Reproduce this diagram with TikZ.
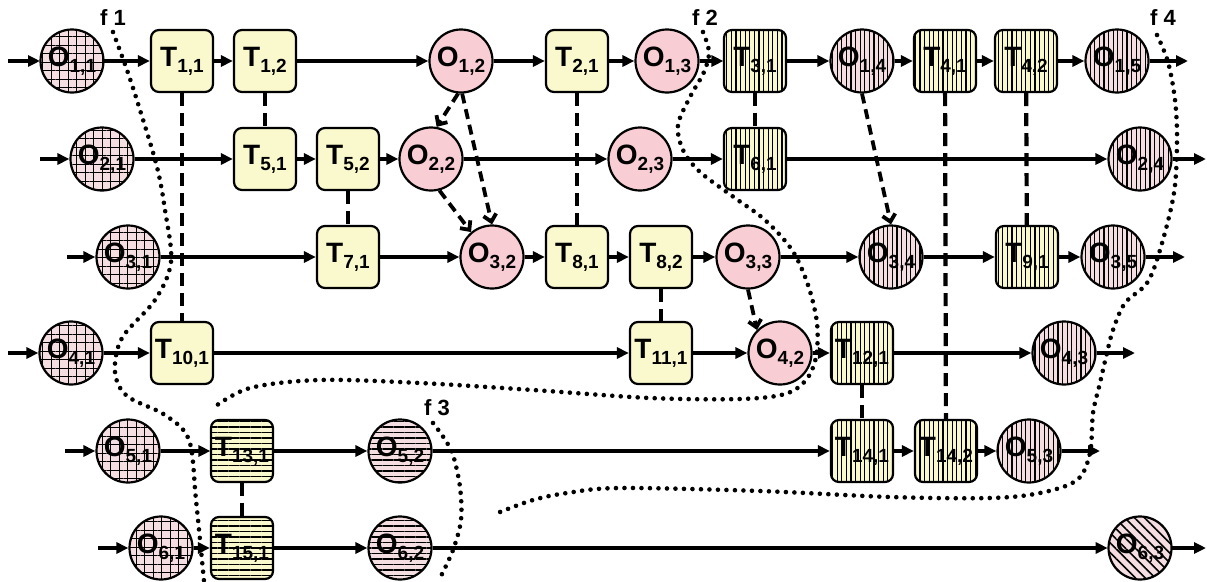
\documentclass[tikz,border=0pt]{standalone}
\usepackage{fontspec}
\setmainfont{Liberation Sans}
\usetikzlibrary{arrows.meta,patterns.meta}
\definecolor{boxy}{RGB}{250,249,205}
\definecolor{pinko}{RGB}{248,206,212}
\definecolor{pinkl}{RGB}{244,222,226}
\newcommand\nl[2]{#1\raisebox{-6pt}{\fontsize{19}{19}\selectfont #2}}
\begin{document}
\begin{tikzpicture}[x=1pt,y=-1pt,
  base/.style={draw=black,line width=2.2pt,inner sep=0pt,font=\fontsize{28}{28}\selectfont\bfseries},
  tbox/.style={base,rectangle,rounded corners=8pt,minimum width=62pt,minimum height=62pt,fill=boxy},
  tvert/.style={tbox,preaction={fill=boxy},pattern={Lines[angle=90,distance=4.6pt,line width=1.1pt]}},
  thor/.style={tbox,preaction={fill=boxy},pattern={Lines[angle=0,distance=5.5pt,line width=1.1pt]}},
  obj/.style={base,circle,minimum size=63pt,fill=pinko},
  ogrid/.style={obj,preaction={fill=pinkl},preaction={pattern={Lines[angle=0,distance=8.5pt,line width=1pt]}},pattern={Lines[angle=90,distance=8.5pt,line width=1pt]}},
  overt/.style={obj,preaction={fill=pinkl},pattern={Lines[angle=90,distance=4.6pt,line width=1.1pt]}},
  ohor/.style={obj,preaction={fill=pinkl},pattern={Lines[angle=0,distance=5.5pt,line width=1.1pt]}},
  odiag/.style={obj,preaction={fill=pinkl},pattern={Lines[angle=-45,distance=7pt,line width=1.6pt]}},
  sarr/.style={line width=3.2pt,-{Triangle[length=12pt,width=11pt]}},
  dline/.style={line width=4.2pt,dash pattern=on 13pt off 7pt},
  darr/.style={line width=3.8pt,dash pattern=on 10pt off 6pt,-{Straight Barb[length=7pt,width=13pt]}},
  dots/.style={line width=4.6pt,line cap=round,dash pattern=on 0pt off 8.5pt},
  flab/.style={font=\fontsize{22}{22}\selectfont\bfseries,inner sep=0pt}
]
\useasboundingbox (0,0) rectangle (1207,581);
% row 1
\node[ogrid] (O11) at (72,61) {\nl{O}{1,1}};
\node[tbox] (T11) at (182,61) {\nl{T}{1,1}};
\node[tbox] (T12) at (265,61) {\nl{T}{1,2}};
\node[obj] (O12) at (461,61) {\nl{O}{1,2}};
\node[tbox] (T21) at (577,61) {\nl{T}{2,1}};
\node[obj] (O13) at (667,61) {\nl{O}{1,3}};
\node[tvert] (T31) at (755,61) {\nl{T}{3,1}};
\node[overt] (O14) at (862,61) {\nl{O}{1,4}};
\node[tvert] (T41) at (945,61) {\nl{T}{4,1}};
\node[tvert] (T42) at (1026,61) {\nl{T}{4,2}};
\node[overt] (O15) at (1117,61) {\nl{O}{1,5}};
% row 2
\node[ogrid] (O21) at (102,159) {\nl{O}{2,1}};
\node[tbox] (T51) at (265,159) {\nl{T}{5,1}};
\node[tbox] (T52) at (348,159) {\nl{T}{5,2}};
\node[obj] (O22) at (431,159) {\nl{O}{2,2}};
\node[obj] (O23) at (640,159) {\nl{O}{2,3}};
\node[tvert] (T61) at (755,159) {\nl{T}{6,1}};
\node[overt] (O24) at (1140,159) {\nl{O}{2,4}};
% row 3
\node[ogrid] (O31) at (128,257) {\nl{O}{3,1}};
\node[tbox] (T71) at (348,257) {\nl{T}{7,1}};
\node[obj] (O32) at (492,257) {\nl{O}{3,2}};
\node[tbox] (T81) at (577,257) {\nl{T}{8,1}};
\node[tbox] (T82) at (661,257) {\nl{T}{8,2}};
\node[obj] (O33) at (748,257) {\nl{O}{3,3}};
\node[overt] (O34) at (891,257) {\nl{O}{3,4}};
\node[tvert] (T91) at (1027,257) {\nl{T}{9,1}};
\node[overt] (O35) at (1113,257) {\nl{O}{3,5}};
% row 4
\node[ogrid] (O41) at (71,353) {\nl{O}{4,1}};
\node[tbox] (T101) at (182,353) {\nl{T}{10,1}};
\node[tbox] (T111) at (661,353) {\nl{T}{11,1}};
\node[obj] (O42) at (780,353) {\nl{O}{4,2}};
\node[tvert] (T121) at (862,353) {\nl{T}{12,1}};
\node[overt] (O43) at (1064,353) {\nl{O}{4,3}};
% row 5
\node[ogrid] (O51) at (128,451) {\nl{O}{5,1}};
\node[thor] (T131) at (242,451) {\nl{T}{13,1}};
\node[ohor] (O52) at (400,451) {\nl{O}{5,2}};
\node[tvert] (T141) at (862,451) {\nl{T}{14,1}};
\node[tvert] (T142) at (946,451) {\nl{T}{14,2}};
\node[overt] (O53) at (1029,451) {\nl{O}{5,3}};
% row 6
\node[ogrid] (O61) at (161,548) {\nl{O}{6,1}};
\node[thor] (T151) at (242,548) {\nl{T}{15,1}};
\node[ohor] (O62) at (400,548) {\nl{O}{6,2}};
\node[odiag] (O63) at (1140,548) {\nl{O}{6,3}};
% free ends
\coordinate (s1) at (8,61);   \coordinate (e1) at (1188,61);
\coordinate (s2) at (40,159); \coordinate (e2) at (1206,159);
\coordinate (s3) at (67,257); \coordinate (e3) at (1185,257);
\coordinate (s4) at (8,353);  \coordinate (e4) at (1135,353);
\coordinate (s5) at (65,451); \coordinate (e5) at (1100,451);
\coordinate (s6) at (98,548); \coordinate (e6) at (1206,548);
% dashed links
\draw[dline] (T11) -- (T101);
\draw[dline] (T12) -- (T51);
\draw[dline] (T52) -- (T71);
\draw[dline] (T21) -- (T81);
\draw[dline] (T31) -- (T61);
\draw[dline] (T82) -- (T111);
\draw[dline] (T41) -- (T142);
\draw[dline] (T42) -- (T91);
\draw[dline] (T121) -- (T141);
\draw[dline] (T131) -- (T151);
% row flows
\draw[sarr] (s1) -- (O11); \draw[sarr] (O11) -- (T11); \draw[sarr] (T11) -- (T12);
\draw[sarr] (T12) -- (O12); \draw[sarr] (O12) -- (T21); \draw[sarr] (T21) -- (O13);
\draw[sarr] (O13) -- (T31); \draw[sarr] (T31) -- (O14); \draw[sarr] (O14) -- (T41);
\draw[sarr] (T41) -- (T42); \draw[sarr] (T42) -- (O15); \draw[sarr] (O15) -- (e1);
\draw[sarr] (s2) -- (O21); \draw[sarr] (O21) -- (T51); \draw[sarr] (T51) -- (T52);
\draw[sarr] (T52) -- (O22); \draw[sarr] (O22) -- (O23); \draw[sarr] (O23) -- (T61);
\draw[sarr] (T61) -- (O24); \draw[sarr] (O24) -- (e2);
\draw[sarr] (s3) -- (O31); \draw[sarr] (O31) -- (T71); \draw[sarr] (T71) -- (O32);
\draw[sarr] (O32) -- (T81); \draw[sarr] (T81) -- (T82); \draw[sarr] (T82) -- (O33);
\draw[sarr] (O33) -- (O34); \draw[sarr] (O34) -- (T91); \draw[sarr] (T91) -- (O35);
\draw[sarr] (O35) -- (e3);
\draw[sarr] (s4) -- (O41); \draw[sarr] (O41) -- (T101); \draw[sarr] (T101) -- (T111);
\draw[sarr] (T111) -- (O42); \draw[sarr] (O42) -- (T121); \draw[sarr] (T121) -- (O43);
\draw[sarr] (O43) -- (e4);
\draw[sarr] (s5) -- (O51); \draw[sarr] (O51) -- (T131); \draw[sarr] (T131) -- (O52);
\draw[sarr] (O52) -- (T141); \draw[sarr] (T141) -- (T142); \draw[sarr] (T142) -- (O53);
\draw[sarr] (O53) -- (e5);
\draw[sarr] (s6) -- (O61); \draw[sarr] (O61) -- (T151); \draw[sarr] (T151) -- (O62);
\draw[sarr] (O62) -- (O63); \draw[sarr] (O63) -- (e6);
% dashed arrows
\draw[darr] (O12.265) -- (O22.80);
\draw[darr] (O12.272) -- (O32.north);
\draw[darr] (O22.-75) -- (O32.130);
\draw[darr] (O14.south) -- (O34.north);
\draw[darr] (O33.south) -- (O42.135);
% dotted frontiers
\draw[dots] plot[smooth,tension=0.55] coordinates {(113,32) (127,70) (140,110) (157,167) (165,210) (171,262) (155,300) (122,338) (115,372) (127,396) (165,415) (189,440) (196,500) (204,581)};
\draw[dots] plot[smooth,tension=0.55] coordinates {(703,32) (709,52) (704,72) (690,97) (678,125) (683,150) (700,172) (735,198) (765,220) (792,250) (808,285) (817,323) (816,357) (806,380) (785,394) (740,399) (650,398) (533,390) (420,383) (320,380) (250,388) (213,408)};
\draw[dots] plot[smooth,tension=0.55] coordinates {(433,423) (444,438) (453,455) (460,487) (461,520) (453,550) (440,578)};
\draw[dots] plot[smooth,tension=0.55] coordinates {(1157,35) (1168,62) (1175,100) (1177,140) (1174,193) (1160,250) (1147,283) (1125,303) (1113,330) (1106,357) (1100,383) (1093,413) (1090,453) (1077,480) (1040,493) (990,498) (890,497) (760,491) (620,488) (567,493) (533,500) (500,512)};
% labels
\node[flab] (f1) at (113,18) {f 1};
\node[flab] (f2) at (705,18) {f 2};
\node[flab] (f3) at (437,408) {f 3};
\node[flab] (f4) at (1163,18) {f 4};
\end{tikzpicture}
\end{document}
